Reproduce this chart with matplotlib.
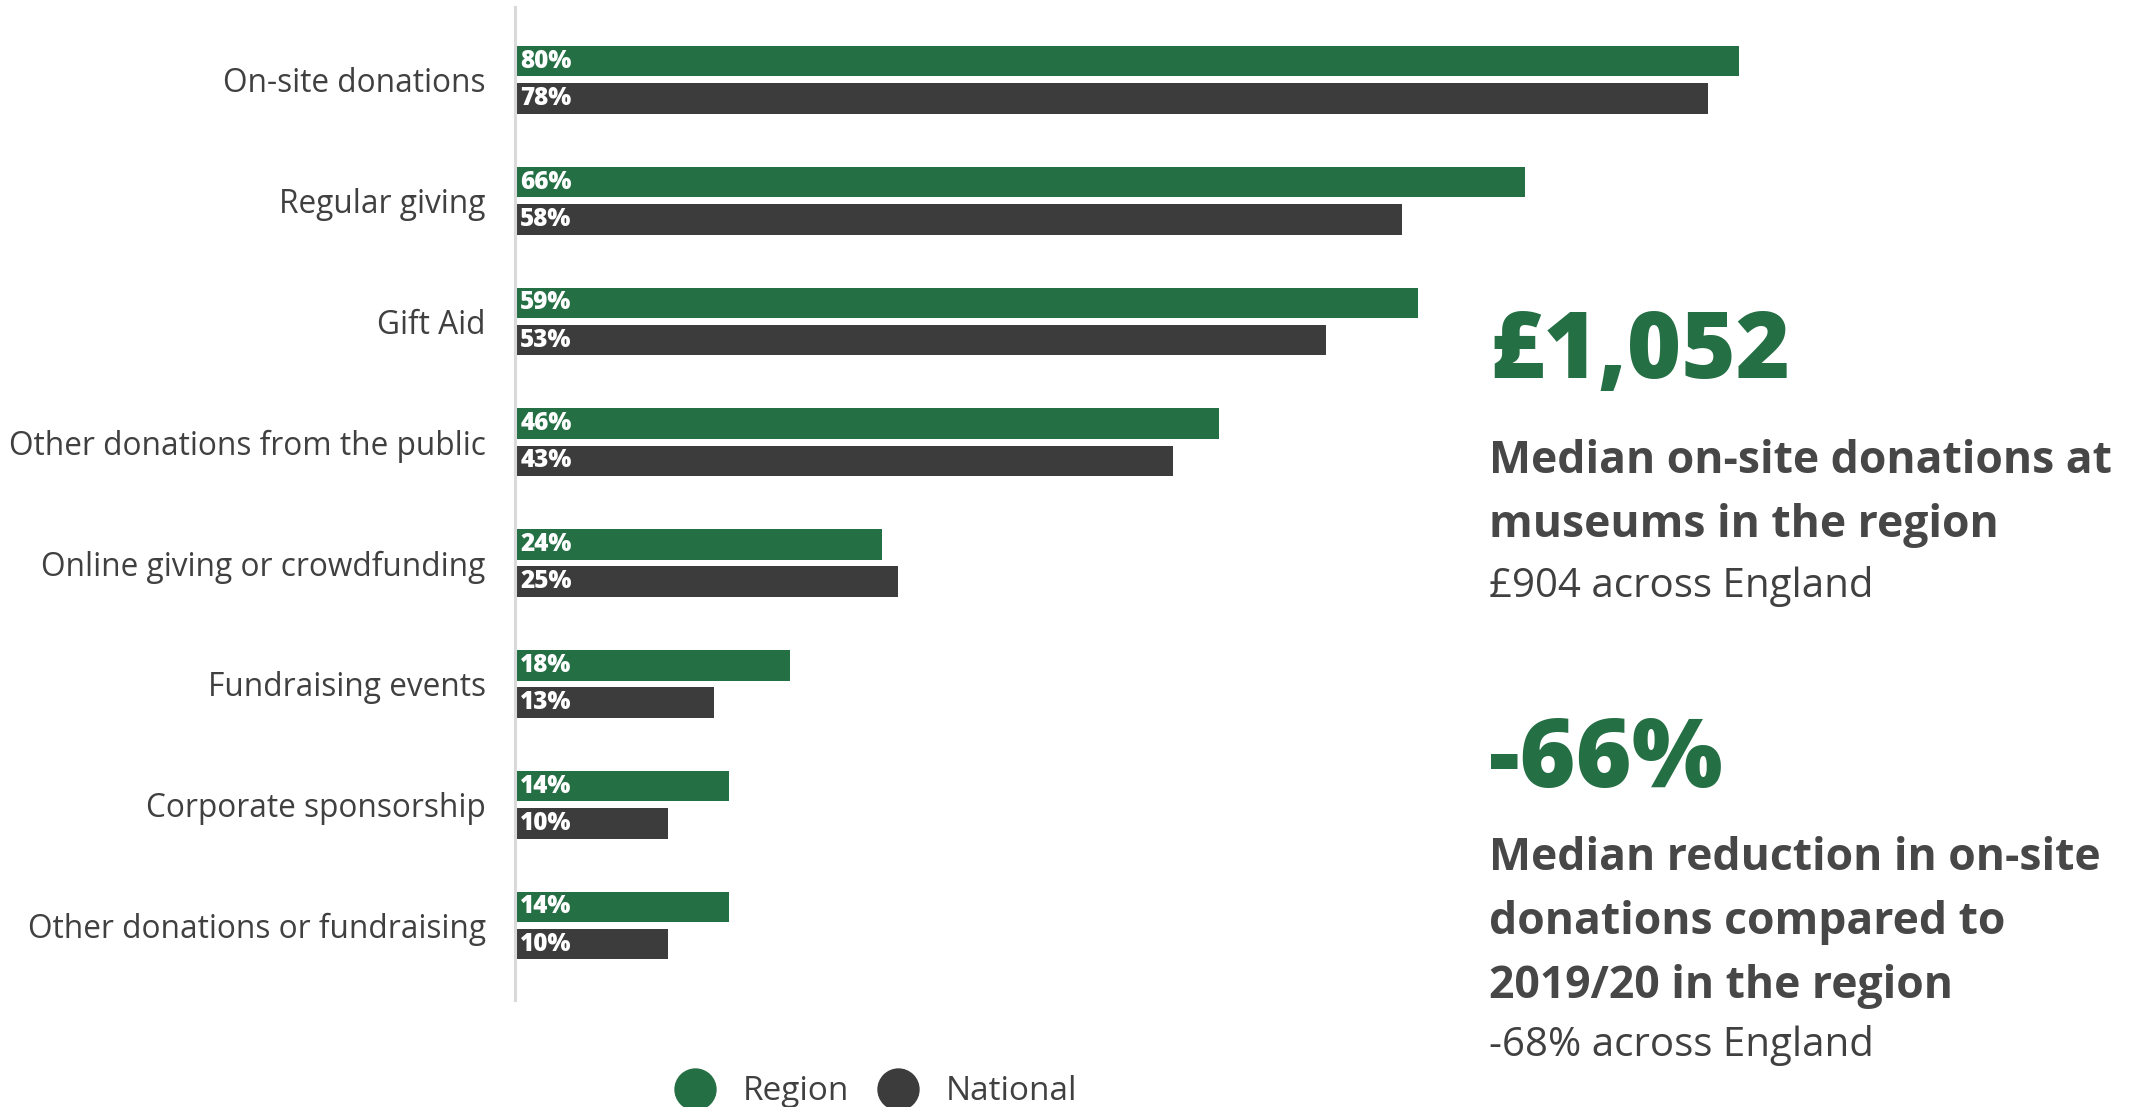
import matplotlib.pyplot as plt
from matplotlib.lines import Line2D
import numpy as np

# data
categories = ['On-site donations', 'Regular giving', 'Gift Aid',
              'Other donations from the public', 'Online giving or crowdfunding',
              'Fundraising events', 'Corporate sponsorship',
              'Other donations or fundraising']
region = [80, 66, 59, 46, 24, 18, 14, 14]
national = [78, 58, 53, 43, 25, 13, 10, 10]
series_names = ['Region', 'National']

stat1_value = '£1,052'
stat1_lines = ['Median on-site donations at', 'museums in the region']
stat1_note = '£904 across England'
stat2_value = '-66%'
stat2_lines = ['Median reduction in on-site', 'donations compared to',
               '2019/20 in the region']
stat2_note = '-68% across England'

green = '#256f45'
dark = '#3c3c3c'
txt = '#404040'

plt.rcParams['font.family'] = ['Open Sans', 'DejaVu Sans']

W, H = 2142, 1107
fig = plt.figure(figsize=(W / 100, H / 100), dpi=100)
ax = fig.add_axes([515 / W, 1 - 1000 / H, 1285 / W, 993 / H])

y = np.arange(len(categories))
bh = 0.2525
off = 0.154
ax.barh(y - off, region, height=bh, color=green)
ax.barh(y + off, national, height=bh, color=dark)

for i in range(len(categories)):
    ax.text(0.35, y[i] - off, f'{region[i]}%', color='white', fontsize=17.5,
            fontweight='heavy', va='center', ha='left')
    ax.text(0.35, y[i] + off, f'{national[i]}%', color='white', fontsize=17.5,
            fontweight='heavy', va='center', ha='left')

ax.set_xlim(0, 1285 / 15.3)
ax.set_ylim(7.617, -0.603)
ax.set_yticks(y)
ax.set_yticklabels(categories, fontsize=22.8, color=txt)
ax.tick_params(axis='y', length=0, pad=21)
ax.set_xticks([])
for s in ['top', 'right', 'bottom']:
    ax.spines[s].set_visible(False)
ax.spines['left'].set_color('#d9d9d9')
ax.spines['left'].set_linewidth(2.2)
ax.patch.set_alpha(0)

# legend
handles = [Line2D([], [], marker='o', linestyle='', markersize=29.5,
                  markerfacecolor=c, markeredgecolor=c) for c in [green, dark]]
fig.legend(handles, series_names, loc='center', ncol=2, frameon=False,
           bbox_to_anchor=(875 / W, 1 - 1092 / H), fontsize=24,
           labelcolor=txt, handlelength=1.3, handletextpad=0.79,
           columnspacing=0.81, borderpad=0)

# key stats on the right
x0 = 1489 / W
fig.text(x0, 1 - 378 / H, stat1_value, color=green, fontsize=67,
         fontweight='heavy', va='baseline')
for k, line in enumerate(stat1_lines):
    fig.text(x0, 1 - (473 + 64 * k) / H, line, color='#474747', fontsize=32,
             fontweight='bold', va='baseline')
fig.text(x0, 1 - 597 / H, stat1_note, color=txt, fontsize=29, va='baseline')

fig.text(x0, 1 - 787 / H, stat2_value, color=green, fontsize=69,
         fontweight='heavy', va='baseline')
for k, line in enumerate(stat2_lines):
    fig.text(x0, 1 - (870 + 64 * k) / H, line, color='#474747', fontsize=32,
             fontweight='bold', va='baseline')
fig.text(x0, 1 - 1056 / H, stat2_note, color=txt, fontsize=29, va='baseline')

fig.savefig('out.png', dpi=100)
